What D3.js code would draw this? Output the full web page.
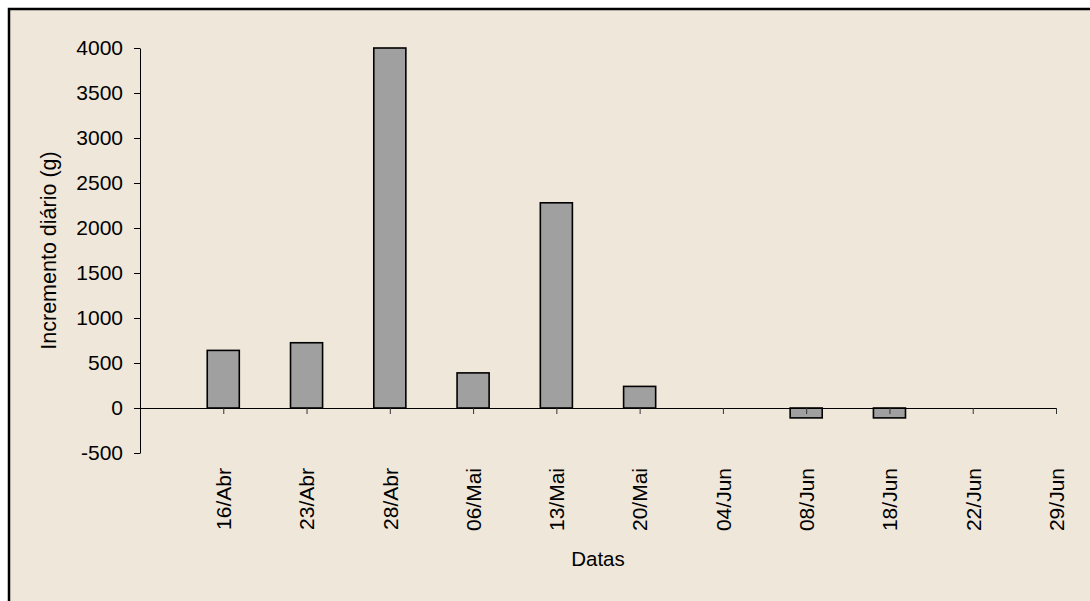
<!DOCTYPE html>
<html>
<head>
<meta charset="utf-8">
<script src="https://cdn.jsdelivr.net/npm/d3@7"></script>
<style>
  html, body { margin: 0; padding: 0; background: #ffffff; }
  svg { display: block; font-family: "Liberation Sans", Arial, sans-serif; }
</style>
</head>
<body>
<svg id="chart" width="1090" height="601"></svg>
<script>
// Daily weight increment per sampling date
const dates = ["16/Abr", "23/Abr", "28/Abr", "06/Mai", "13/Mai", "20/Mai",
               "04/Jun", "08/Jun", "18/Jun", "22/Jun", "29/Jun"];
const increments = [640, 725, 4000, 390, 2280, 240, 0, -110, -110, 0, 0];
const yTicks = [-500, 0, 500, 1000, 1500, 2000, 2500, 3000, 3500, 4000];

const svg = d3.select("#chart");
const W = 1090, H = 601;
const FONT = "Liberation Sans, Arial, sans-serif";

// Chart area background and frame
svg.append("rect")
  .attr("x", 9).attr("y", 9)
  .attr("width", W + 20).attr("height", H + 20)
  .attr("fill", "#efe7d9")
  .attr("stroke", "#000").attr("stroke-width", 2.5);

const plot = { left: 140, right: 1056, top: 48, bottom: 453 };

// A leading empty slot keeps the first date one step away from the value axis
const slots = ["", ...dates];
const x = d3.scalePoint().domain(slots).range([plot.left, plot.right]).padding(0);
const step = x.step();
const barW = step * 0.385;

const y = d3.scaleLinear().domain([-500, 4000]).range([plot.bottom, plot.top]);

// Bars
const data = dates.map((d, i) => ({ date: d, value: increments[i] }));
svg.append("g")
  .selectAll("rect")
  .data(data.filter(d => d.value !== 0))
  .join("rect")
  .attr("x", d => x(d.date) - barW / 2)
  .attr("width", barW)
  .attr("y", d => y(Math.max(0, d.value)))
  .attr("height", d => Math.abs(y(d.value) - y(0)))
  .attr("fill", "#a0a0a0")
  .attr("stroke", "#000")
  .attr("stroke-width", 1.6);

// Value axis (plain hyphen for negatives)
const yAxis = svg.append("g")
  .attr("transform", `translate(${plot.left},0)`)
  .call(d3.axisLeft(y).tickValues(yTicks).tickSize(6).tickSizeOuter(0).tickPadding(11)
        .tickFormat(d => String(d)));
yAxis.selectAll("text").attr("font-size", 21).attr("fill", "#000").attr("font-family", FONT);
yAxis.selectAll("line, path").attr("stroke", "#000");

// Category axis on the zero line
const xAxis = svg.append("g")
  .attr("transform", `translate(0,${y(0)})`)
  .call(d3.axisBottom(x).tickValues(dates).tickSize(6).tickSizeOuter(0));
xAxis.select(".domain").attr("stroke", "#000");
xAxis.selectAll(".tick line").attr("stroke", "#333");
xAxis.selectAll(".tick text")
  .attr("font-size", 21).attr("fill", "#000").attr("font-family", FONT)
  .attr("text-anchor", "end")
  .attr("transform", `translate(0,${plot.bottom + 15 - y(0)}) rotate(-90)`)
  .attr("x", 0).attr("y", 0).attr("dy", "0.35em");

// Axis titles
svg.append("text")
  .attr("x", (plot.left + plot.right) / 2).attr("y", 566)
  .attr("text-anchor", "middle").attr("font-size", 20.5).attr("fill", "#000")
  .text("Datas");

svg.append("text")
  .attr("transform", `translate(56,${(plot.top + plot.bottom) / 2}) rotate(-90)`)
  .attr("text-anchor", "middle").attr("font-size", 21.5).attr("fill", "#000")
  .text("Incremento diário (g)");
</script>
</body>
</html>
